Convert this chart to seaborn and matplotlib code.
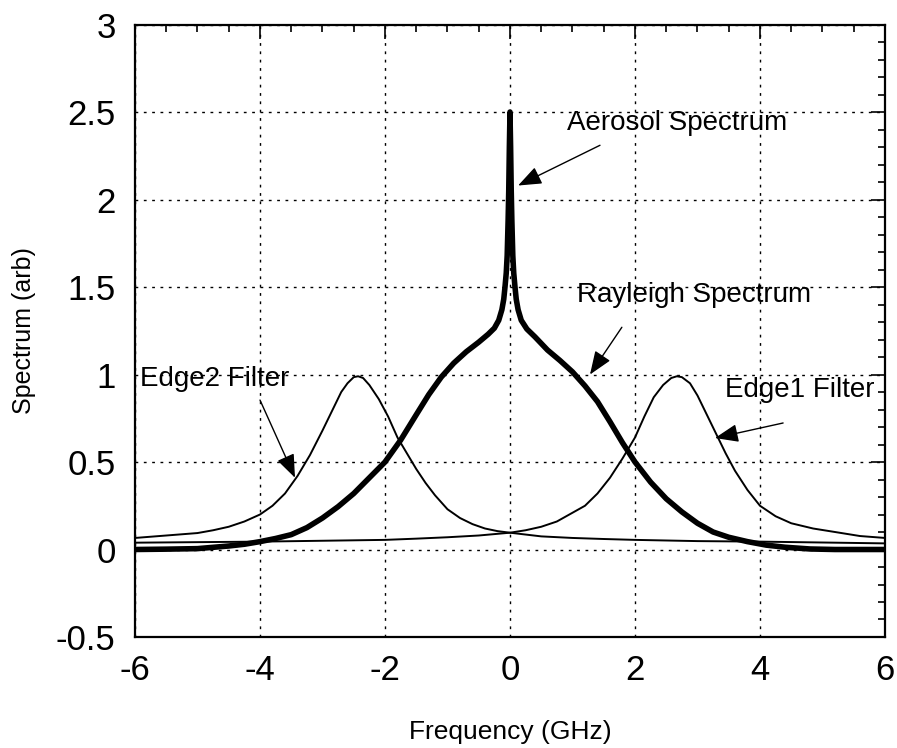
import numpy as np
import pandas as pd
import matplotlib
matplotlib.use("Agg")
import matplotlib.pyplot as plt
from matplotlib.ticker import MultipleLocator
import seaborn as sns

# ---- data ----
edge2_x = [-6, -5.5, -5, -4.75, -4.5, -4.25, -4, -3.8, -3.6, -3.4, -3.2, -3.0, -2.85,
           -2.7, -2.6, -2.5, -2.43, -2.35, -2.25, -2.1, -1.95, -1.8, -1.65, -1.5, -1.35,
           -1.2, -1.0, -0.8, -0.6, -0.4, -0.2, 0, 0.5, 1, 1.5, 2, 3, 4, 5, 6]
edge2_y = [0.066, 0.08, 0.094, 0.11, 0.13, 0.16, 0.20, 0.25, 0.32, 0.42, 0.54, 0.68,
           0.79, 0.90, 0.95, 0.985, 0.99, 0.98, 0.94, 0.86, 0.76, 0.64, 0.55, 0.46, 0.38,
           0.31, 0.23, 0.18, 0.145, 0.12, 0.105, 0.096, 0.075, 0.066, 0.06, 0.055, 0.048,
           0.045, 0.04, 0.035]

edge1_x = [-6, -5, -4, -3, -2, -1.5, -1, -0.5, 0, 0.25, 0.5, 0.75, 1.0, 1.2, 1.4, 1.6,
           1.8, 2.0, 2.15, 2.3, 2.45, 2.58, 2.67, 2.75, 2.88, 3.0, 3.15, 3.3, 3.45, 3.6,
           3.8, 4.0, 4.25, 4.5, 4.85, 5.2, 5.6, 6.0]
edge1_y = [0.039, 0.042, 0.045, 0.05, 0.055, 0.062, 0.07, 0.08, 0.096, 0.11, 0.13, 0.16,
           0.21, 0.25, 0.32, 0.41, 0.52, 0.64, 0.76, 0.87, 0.94, 0.98, 0.99, 0.985, 0.95,
           0.88, 0.77, 0.66, 0.55, 0.45, 0.34, 0.25, 0.19, 0.15, 0.12, 0.10, 0.077, 0.066]

rayleigh_x = [-6, -5.5, -5, -4.5, -4.25, -4, -3.75, -3.5, -3.25, -3, -2.75, -2.5, -2.25,
              -2, -1.75, -1.5, -1.3, -1.1, -0.9, -0.7, -0.5, -0.35, -0.25, -0.18, -0.13,
              -0.1, -0.08, -0.06, -0.045, -0.03, -0.02, -0.01, 0,
              0.01, 0.02, 0.03, 0.045, 0.06, 0.08, 0.1, 0.13, 0.18, 0.27, 0.4, 0.6, 0.8,
              1.0, 1.2, 1.4, 1.6, 1.8, 2.0, 2.25, 2.5, 2.75, 3.0, 3.25, 3.5, 3.8, 4.1,
              4.4, 4.8, 5.2, 6]
rayleigh_y = [0, 0.002, 0.005, 0.02, 0.03, 0.045, 0.063, 0.085, 0.125, 0.18, 0.245, 0.32,
              0.41, 0.50, 0.625, 0.77, 0.885, 0.985, 1.065, 1.13, 1.185, 1.23, 1.265, 1.31,
              1.37, 1.43, 1.5, 1.58, 1.68, 1.88, 2.05, 2.3, 2.5,
              2.3, 2.05, 1.88, 1.68, 1.58, 1.5, 1.43, 1.37, 1.31, 1.26, 1.215, 1.14, 1.08,
              1.015, 0.935, 0.845, 0.73, 0.61, 0.50, 0.385, 0.29, 0.215, 0.15, 0.10, 0.07,
              0.045, 0.025, 0.013, 0.003, 0.0, 0]

x_ticks = [-6, -4, -2, 0, 2, 4, 6]
y_ticks = [-0.5, 0, 0.5, 1, 1.5, 2, 2.5, 3]
y_tick_labels = ["-0.5", "0", "0.5", "1", "1.5", "2", "2.5", "3"]

x_label = "Frequency (GHz)"
y_label = "Spectrum (arb)"

# ---- figure ----
sns.set_style("white")
plt.rcParams["font.family"] = ["Liberation Sans", "DejaVu Sans"]
for k in ["text.color", "axes.labelcolor", "xtick.color", "ytick.color", "axes.edgecolor"]:
    plt.rcParams[k] = "black"

fig = plt.figure(figsize=(8.97, 7.48), dpi=100)
ax = fig.add_axes([0.1505, 0.1484, 0.8361, 0.8188])

sns.lineplot(x=edge1_x, y=edge1_y, ax=ax, color="black", linewidth=1.4, estimator=None, sort=False)
sns.lineplot(x=edge2_x, y=edge2_y, ax=ax, color="black", linewidth=1.4, estimator=None, sort=False)
sns.lineplot(x=rayleigh_x, y=rayleigh_y, ax=ax, color="black", linewidth=4.0, estimator=None, sort=False)

ax.set_xlim(-6, 6)
ax.set_ylim(-0.5, 3)
ax.set_xticks(x_ticks)
ax.set_xticklabels([str(t) for t in x_ticks])
ax.set_yticks(y_ticks)
ax.set_yticklabels(y_tick_labels)
ax.xaxis.set_minor_locator(MultipleLocator(0.5))
ax.yaxis.set_minor_locator(MultipleLocator(0.1))

ax.tick_params(which="both", direction="in", top=True, right=True, color="black", width=1.2)
ax.tick_params(which="major", length=10, labelsize=25, pad=12, labelcolor="black")
ax.tick_params(which="minor", length=5)
ax.tick_params(axis="y", which="major", pad=14)

for s in ax.spines.values():
    s.set_color("black")
    s.set_linewidth(1.6)
    s.set_visible(True)

ax.grid(True, which="major", color="black", linestyle=(0, (2, 4)), linewidth=1.0)
ax.set_axisbelow(True)

ax.set_xlabel(x_label, fontsize=19, labelpad=24, color="black")
ax.set_ylabel(y_label, fontsize=18, labelpad=14, color="black")

# ---- annotations ----
arrow_kw = dict(arrowstyle="-|>,head_length=0.9,head_width=0.35", color="black",
                lw=1.0, shrinkA=0, shrinkB=0, mutation_scale=16)
ann_fs = 20

ax.text(0.91, 2.44, "Aerosol Spectrum", fontsize=ann_fs, va="center", ha="left", color="black")
ax.annotate("", xy=(0.13, 2.08), xytext=(1.44, 2.31), arrowprops=arrow_kw)

ax.text(1.07, 1.454, "Rayleigh Spectrum", fontsize=ann_fs, va="center", ha="left", color="black")
ax.annotate("", xy=(1.28, 1.0), xytext=(1.79, 1.27), arrowprops=arrow_kw)

ax.text(-5.92, 0.974, "Edge2 Filter", fontsize=ann_fs, va="center", ha="left", color="black")
ax.annotate("", xy=(-3.44, 0.41), xytext=(-4.0, 0.854), arrowprops=arrow_kw)

ax.text(3.44, 0.911, "Edge1 Filter", fontsize=ann_fs, va="center", ha="left", color="black")
ax.annotate("", xy=(3.28, 0.637), xytext=(4.37, 0.723), arrowprops=arrow_kw)

fig.savefig("out.png", dpi=100, facecolor="white")
